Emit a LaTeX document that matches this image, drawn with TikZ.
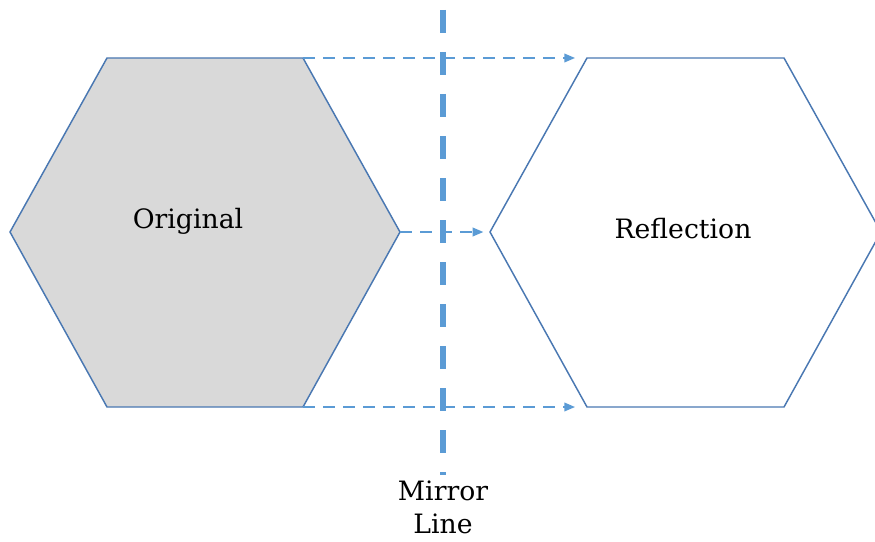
\documentclass[tikz,border=0pt]{standalone}
\usepackage{fontspec}
\setmainfont{DejaVu Serif}
\usetikzlibrary{arrows.meta, positioning}
\usepackage{xcolor}
\definecolor{hexborder}{RGB}{74,120,178}
\definecolor{mirrorblue}{RGB}{91,155,213}
\definecolor{hexgray}{RGB}{217,217,217}

\begin{document}
\begin{tikzpicture}[
                x=0.75pt, y=-0.75pt,
                line join=miter,
                hexside/.style={draw=hexborder, line width=1.1pt},
                mirrorline/.style={draw=mirrorblue, line width=4.5pt, dash pattern=on 17.25pt off 14.25pt},
                projarrow/.style={draw=mirrorblue, line width=1.1pt, dash pattern=on 9pt off 6pt, -{Triangle[length=8pt, width=6.5pt]}},
                labeltext/.style={inner sep=0pt, font=\fontsize{20}{25}\selectfont}
                ]
                %% Frame
                \useasboundingbox (0,0) rectangle (875,542);
                \clip (0,0) rectangle (875,542);

                %% Corners of the two hexagons
                \coordinate (L1) at (10,232);
                \coordinate (L2) at (107,58);
                \coordinate (L3) at (303,58);
                \coordinate (L4) at (400,232);
                \coordinate (L5) at (303,407);
                \coordinate (L6) at (107,407);

                \coordinate (R1) at (490,232);
                \coordinate (R2) at (587,58);
                \coordinate (R3) at (784,58);
                \coordinate (R4) at (881,232);
                \coordinate (R5) at (784,407);
                \coordinate (R6) at (587,407);

                %% Draws
                \filldraw[hexside, fill=hexgray] (L1) -- (L2) -- (L3) -- (L4) -- (L5) -- (L6) -- cycle;
                \draw[hexside] (R1) -- (R2) -- (R3) -- (R4) -- (R5) -- (R6) -- cycle;

                \coordinate (mirtop) at (443,10);
                \coordinate (mirbot) at (443,475);
                \draw[mirrorline] (mirtop) -- (mirbot);

                \draw[projarrow, shorten >=9pt] (L3) -- (R2);
                \draw[projarrow, shorten >=5pt] (L4) -- (R1);
                \draw[projarrow, shorten >=9pt] (L5) -- (R6);

                %% Labels
                \node[labeltext, anchor=base] (orig) at (188,228) {Original};
                \node[labeltext, anchor=base] (refl) at (683,238) {Reflection};
                \node[labeltext, align=center, below=4pt of mirbot] (mirlabel) {Mirror\\Line};
\end{tikzpicture}
\end{document}
